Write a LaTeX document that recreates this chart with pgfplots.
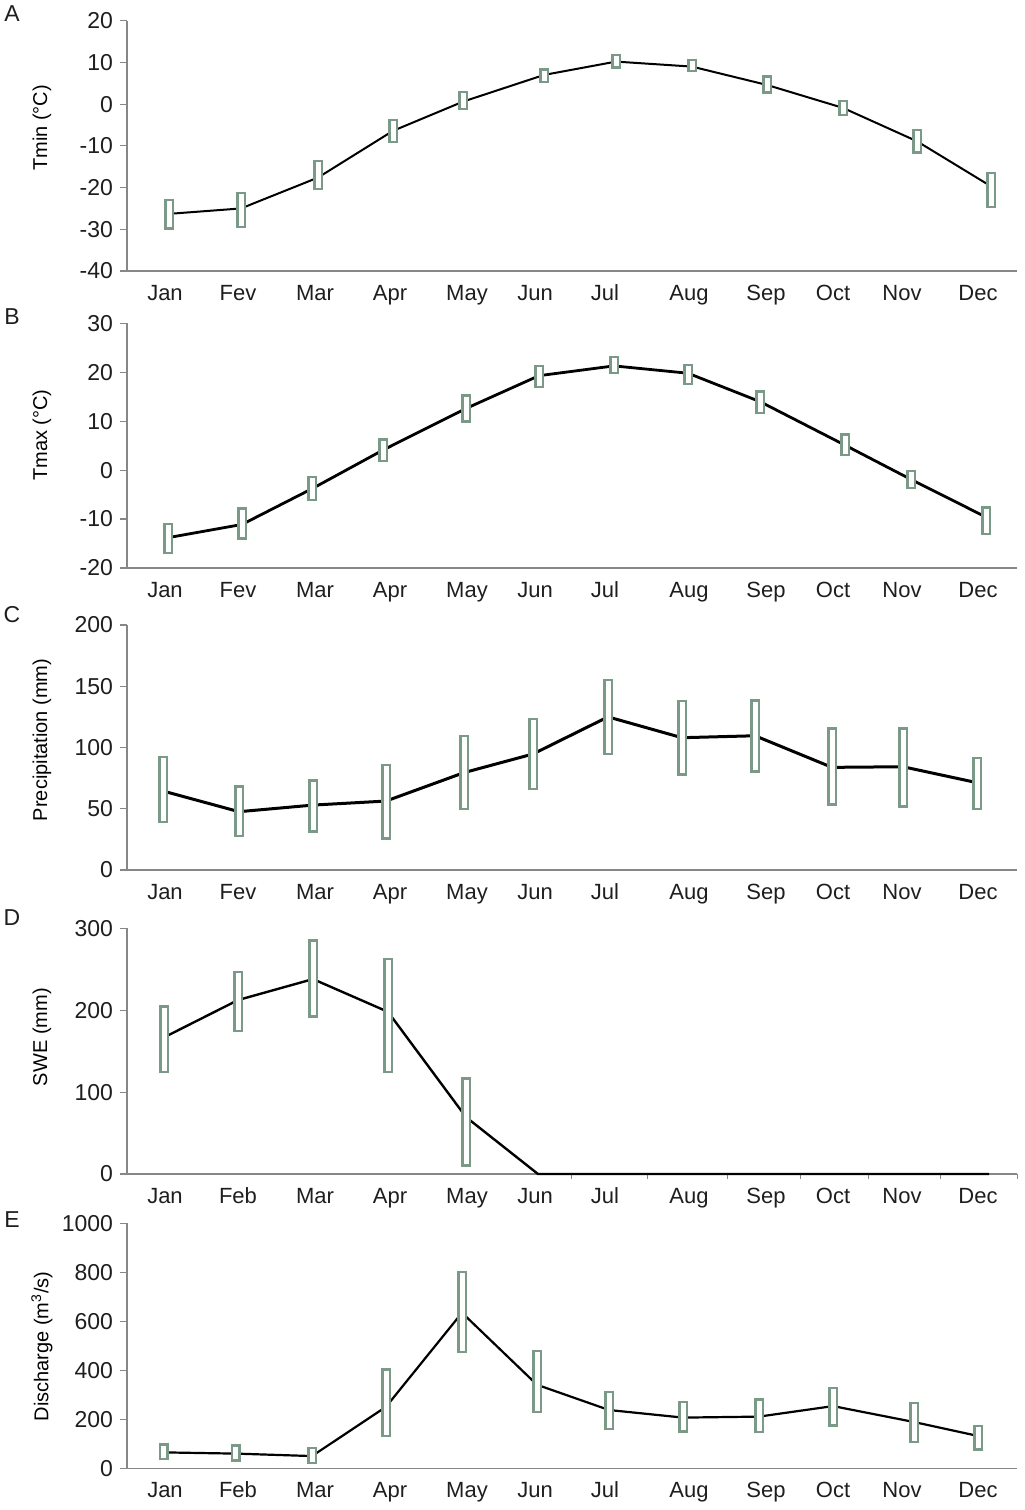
\documentclass[border=0pt]{standalone}
\usepackage{pgfplots}
\usepackage{pgfplotstable}
\pgfplotsset{compat=1.18}
\usepackage{fontspec}
\setmainfont{Liberation Sans}

\definecolor{boxgreen}{RGB}{122,154,135}
\definecolor{axgray}{RGB}{135,135,135}
\definecolor{txt}{RGB}{30,30,30}

% x = pixel column of each box, m = mean, lo/hi = range
\pgfplotstableread{
x   m     lo    hi
169 -26.3 -30.1 -22.7
241 -25.0 -29.7 -21.1
318 -17.6 -20.7 -13.4
393 -6.4  -9.3  -3.5
463 0.6   -1.4  3.2
544 7.0   5.0   8.6
616 10.2  8.5   12.1
692 9.0   7.6   10.8
767 4.6   2.5   6.9
843 -0.9  -2.9  1.0
917 -8.9  -11.9 -6.0
991 -19.7 -25.0 -16.2
}\tmin

\pgfplotstableread{
x   m     lo    hi
168 -13.8 -17.2 -10.8
242 -11.1 -14.2 -7.6
312 -3.8  -6.4  -1.1
383 4.1   1.7   6.5
466 12.6  9.7   15.5
539 19.3  16.7  21.5
614 21.3  19.6  23.3
688 19.8  17.4  21.7
760 14.0  11.5  16.3
845 5.1   2.9   7.5
911 -1.9  -3.9  0.1
986 -9.6  -13.3 -7.4
}\tmax

\pgfplotstableread{
x   m     lo    hi
163 64.5  38    93
239 47.6  27    69
313 53    30.5  74
386 56.3  24.7  86.5
464 79.5  49    110.5
533 94.7  65.3  124
608 125   94    156
682 108   77    139
755 109.6 79.4  139.3
832 83.8  52.5  116.5
903 84.3  50.9  116.5
977 71.3  49    92.5
}\prec

\pgfplotstableread{
x   m
164 166.8
238 212.4
313 238
388 198
466 69.5
538 0
609 0
684 0
759 0
833 0
905 0
989 0
}\swe

\pgfplotstableread{
x   m     lo    hi
164 166.8 123   206
238 212.4 173   248
313 238   190.8 286.7
388 198   123   264
466 69.5  9     118
}\swebox

\pgfplotstableread{
x   m    lo   hi
164 65   34   102
236 60   27   98
312 50   18   88
386 251  128  408
462 635  470  805
537 341  224  484
609 238  156  316
683 207  145  275
759 211  143  285
833 254  170  332
914 189  102  270
978 132  72   177
}\dis

\newcommand\fnt{\fontsize{10.5}{12}\selectfont}
\newcommand\xfnt{\fontsize{11}{13}\selectfont}
\newcommand\yfnt{\fontsize{11.5}{13}\selectfont}

\pgfplotsset{
  base/.style={
    scale only axis, anchor=south west,
    width=445pt, xmin=127, xmax=1017,
    axis lines=left, clip=false,
    axis line style={-, draw=axgray, line width=0.6pt},
    xtick={165,238,315,390,467,535,605,689,766,833,902,978},
    xtick style={draw=none},
    ytick style={draw=axgray, line width=0.6pt},
    tick align=outside, major tick length=3.5pt,
    tick label style={text=txt},
    yticklabel style={font=\yfnt},
    xticklabel style={font=\xfnt, text height=8pt, text depth=2pt, yshift=0.5pt},
    label style={font=\fnt, text=txt},
    /pgf/number format/assume math mode=true,
    /pgf/number format/1000 sep={},
  },
  ylab/.style={every axis y label/.style={at={(axis description cs:-0.0955,#1)}, rotate=90, anchor=center}},
  meanline/.style={black, line width=#1, mark=none},
  boxout/.style={draw=none, mark=none, forget plot,
    error bars/.cd, y dir=plus, y explicit, error mark=none,
    error bar style={line width=4.8pt, draw=boxgreen}},
  boxin/.style={draw=none, mark=none, forget plot,
    error bars/.cd, y dir=plus, y explicit, error mark=none,
    error bar style={line width=2.5pt, draw=white}},
}

% #1 table, #2 outline thickness in data units
\newcommand\boxes[2]{%
  \addplot[boxout] table[x=x, y=lo, y error plus expr=\thisrow{hi}-\thisrow{lo}] {#1};
  \addplot[boxin] table[x=x, y expr=\thisrow{lo}+#2, y error plus expr=\thisrow{hi}-\thisrow{lo}-2*#2] {#1};
}

\begin{document}
\begin{tikzpicture}
\useasboundingbox (0,0) rectangle (512pt,-755pt);

\begin{axis}[base, at={(63.5pt,-135.5pt)}, height=125.15pt,
  ymin=-40, ymax=20, ytick={-40,-30,...,20},
  xticklabels={Jan,Fev,Mar,Apr,May,Jun,Jul,Aug,Sep,Oct,Nov,Dec},
  ylabel={Tmin (°C)}, ylab=0.572]
\addplot[meanline=1.0pt] table[x=x, y=m] {\tmin};
\boxes{\tmin}{0.551}
\end{axis}

\begin{axis}[base, at={(63.5pt,-284pt)}, height=122.35pt,
  ymin=-20, ymax=30, ytick={-20,-10,...,30},
  xticklabels={Jan,Fev,Mar,Apr,May,Jun,Jul,Aug,Sep,Oct,Nov,Dec},
  ylabel={Tmax (°C)}, ylab=0.543]
\addplot[meanline=1.4pt] table[x=x, y=m] {\tmax};
\boxes{\tmax}{0.470}
\end{axis}

\begin{axis}[base, at={(63.5pt,-435pt)}, height=122.5pt,
  ymin=0, ymax=200, ytick={0,50,...,200},
  xticklabels={Jan,Fev,Mar,Apr,May,Jun,Jul,Aug,Sep,Oct,Nov,Dec},
  ylabel={Precipitation (mm)}, ylab=0.531]
\addplot[meanline=1.5pt] table[x=x, y=m] {\prec};
\boxes{\prec}{1.878}
\end{axis}

\begin{axis}[base, at={(63.5pt,-587pt)}, height=122.85pt,
  ymin=0, ymax=300, ytick={0,100,200,300},
  xticklabels={Jan,Feb,Mar,Apr,May,Jun,Jul,Aug,Sep,Oct,Nov,Dec},
  extra x ticks={571,647,727,800,868,940,1017},
  extra x tick labels={},
  extra x tick style={xtick style={draw=axgray, line width=0.5pt}, major tick length=2.5pt},
  ylabel={SWE (mm)}, ylab=0.557]
\addplot[meanline=1.2pt] table[x=x, y=m] {\swe};
\boxes{\swebox}{2.808}
\end{axis}

\begin{axis}[base, at={(63.5pt,-734.15pt)}, height=122.5pt,
  ymin=0, ymax=1000, ytick={0,200,...,1000},
  xticklabels={Jan,Feb,Mar,Apr,May,Jun,Jul,Aug,Sep,Oct,Nov,Dec},
  ylabel={Discharge (m\textsuperscript{3}/s)}, ylab=0.498]
\addplot[meanline=1.1pt] table[x=x, y=m] {\dis};
\boxes{\dis}{9.388}
\end{axis}

\node[font=\yfnt, text=txt] at (6pt,-7pt) {A};
\node[font=\yfnt, text=txt] at (6pt,-158.5pt) {B};
\node[font=\yfnt, text=txt] at (6pt,-307.5pt) {C};
\node[font=\yfnt, text=txt] at (6pt,-459pt) {D};
\node[font=\yfnt, text=txt] at (6pt,-610pt) {E};
\end{tikzpicture}
\end{document}
